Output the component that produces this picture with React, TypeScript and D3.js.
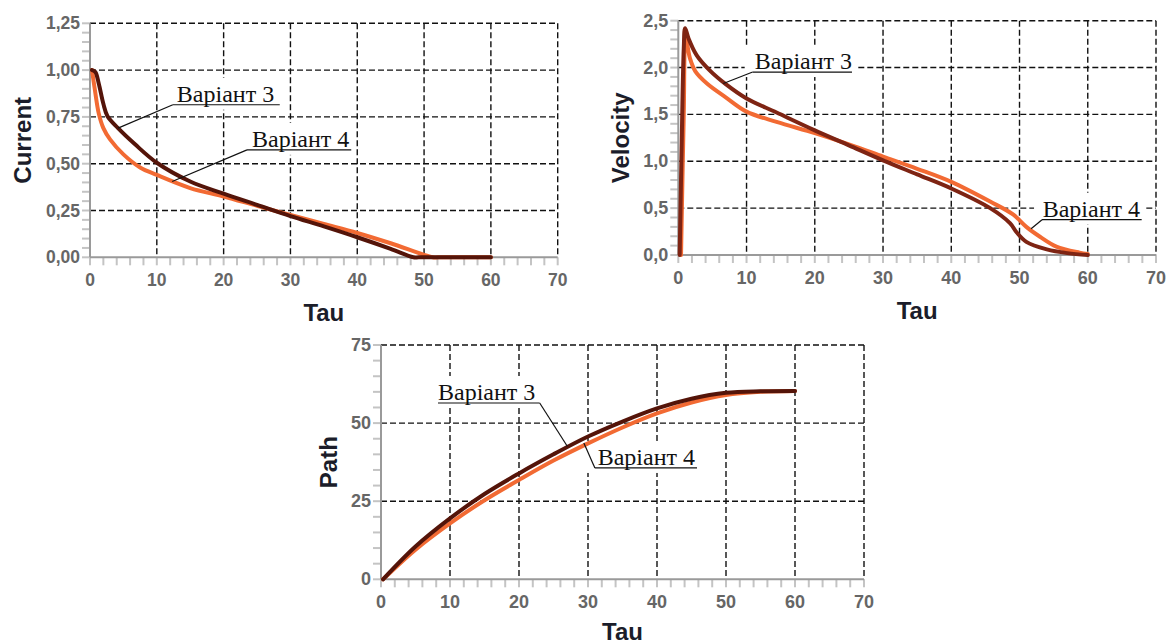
import React from 'react';
import * as d3 from 'd3';

// ---------- data ----------
const tauTicks = [0, 10, 20, 30, 40, 50, 60, 70];
const currentTicks = [0, 0.25, 0.5, 0.75, 1.0, 1.25];
const velocityTicks = [0, 0.5, 1.0, 1.5, 2.0, 2.5];
const pathTicks = [0, 25, 50, 75];

const currentV3Tau = [0.3, 0.8, 1.3, 2.0, 2.6, 4.2, 6.7, 10, 15, 20, 25, 30, 35, 40, 45, 48.4, 49.2, 54, 60];
const currentV3 = [1.0, 0.99, 0.93, 0.82, 0.755, 0.69, 0.605, 0.505, 0.405, 0.34, 0.28, 0.22, 0.165, 0.107, 0.045, 0.0, 0.0, 0.0, 0.0];
const currentV4Tau = [0.3, 0.75, 1.3, 2, 3, 5, 7.5, 10, 15, 20, 25, 30, 35, 40, 45, 51.3, 52.1, 56, 60];
const currentV4 = [1.0, 0.89, 0.77, 0.69, 0.63, 0.55, 0.48, 0.44, 0.37, 0.325, 0.275, 0.226, 0.178, 0.13, 0.075, 0.0, 0.0, 0.0, 0.0];

const velocityV3Tau = [0.2, 0.5, 0.8, 1.0, 1.5, 2.7, 4.6, 7, 10, 14.4, 20, 25, 30, 35, 40, 45.7, 48.6, 49.6, 51, 54, 57, 60];
const velocityV3 = [0, 1.2, 2.2, 2.42, 2.31, 2.13, 1.97, 1.82, 1.67, 1.52, 1.33, 1.17, 1.01, 0.86, 0.71, 0.50, 0.34, 0.24, 0.14, 0.06, 0.02, 0.0];
const velocityV4Tau = [0.4, 0.8, 1.1, 1.7, 2.5, 4.2, 7, 10, 14.4, 20, 25, 30, 35, 40, 45.7, 49.1, 51, 53, 55.4, 58.8, 60];
const velocityV4 = [0, 1.5, 2.31, 2.10, 1.96, 1.83, 1.68, 1.53, 1.42, 1.30, 1.18, 1.05, 0.92, 0.78, 0.57, 0.43, 0.30, 0.195, 0.09, 0.025, 0.01];

const pathV3Tau = [0.3, 5, 10, 15, 20, 25, 30, 35, 40, 45, 50, 55, 60];
const pathV3 = [0, 10.5, 19.5, 27.3, 33.9, 40.0, 45.7, 50.5, 54.7, 57.8, 59.7, 60.2, 60.3];
const pathV4Tau = [0.3, 5, 10, 15, 20, 25, 30, 35, 40, 45, 50, 55, 60];
const pathV4 = [0, 9.5, 17.9, 25.3, 31.8, 38.0, 43.5, 48.6, 53.1, 56.6, 59.0, 60.0, 60.3];

const labelV3 = 'Варіант 3';
const labelV4 = 'Варіант 4';

// ---------- styles ----------
const DARK = '#541409';
const DARK2 = '#7e2413';
const ORANGE = '#f26a33';
const TITLE = '#1b1d2a';
const TICKTXT = '#666666';

type Ann = { text: string; tx: number; ty: number; ux1: number; ux2: number; px: number; py: number; from: 'left' | 'right' };
type Ser = { tau: number[]; vals: number[]; color: string };
type PanelProps = {
  left: number; right: number; top: number; bottom: number;
  yMax: number; yTicks: number[]; yMinor: number; fmt: (v: number) => string;
  yTitle: string; yTitleOff: number; fs: number; tauOff: number;
  series: Ser[]; anns: Ann[];
};

const comma = (d: number) => (v: number) => v.toFixed(d).replace('.', ',');

function Panel(p: PanelProps) {
  const x = d3.scaleLinear().domain([0, 70]).range([p.left, p.right]);
  const y = d3.scaleLinear().domain([0, p.yMax]).range([p.bottom, p.top]);
  const xMinor = d3.range(0, 70 + 0.001, 2);
  const yMinor = d3.range(0, p.yMax + p.yMinor / 2, p.yMinor);
  const line = d3.line<[number, number]>().x(d => x(d[0])).y(d => y(d[1])).curve(d3.curveCatmullRom.alpha(0.5));
  const dash = '6,3';
  return (
    <g>
      {/* grid */}
      {tauTicks.filter(t => t > 0).map(t => (
        <line key={'gx' + t} x1={x(t)} x2={x(t)} y1={p.top} y2={p.bottom} stroke="#111" strokeWidth={1.4} strokeDasharray={dash} />
      ))}
      {p.yTicks.filter(t => t > 0).map(t => (
        <line key={'gy' + t} x1={p.left} x2={p.right} y1={y(t)} y2={y(t)} stroke="#111" strokeWidth={1.4} strokeDasharray={dash} />
      ))}
      {/* label masks */}
      {p.anns.map((a, i) => (
        <rect key={'m' + i} x={x(a.ux1) - 8} y={y(a.ty) - 24} width={x(a.ux2) - x(a.ux1) + 12} height={32} fill="#fff" />
      ))}
      {/* minor ticks */}
      {xMinor.map(t => (
        <line key={'tx' + t} x1={x(t)} x2={x(t)} y1={p.bottom} y2={p.bottom + 8} stroke="#c4c4c4" strokeWidth={2} />
      ))}
      {yMinor.map(t => (
        <line key={'ty' + t} x1={p.left - 8} x2={p.left} y1={y(t)} y2={y(t)} stroke="#c4c4c4" strokeWidth={2} />
      ))}
      {/* axes */}
      <line x1={p.left} x2={p.left} y1={p.top} y2={p.bottom} stroke="#9a9a9a" strokeWidth={2} />
      <line x1={p.left} x2={p.right} y1={p.bottom} y2={p.bottom} stroke="#9a9a9a" strokeWidth={2} />
      {/* tick labels */}
      {tauTicks.map(t => (
        <text key={'lx' + t} x={x(t)} y={p.bottom + 23} textAnchor="middle" dominantBaseline="central"
          fontFamily="Liberation Sans, Arial, sans-serif" fontWeight="bold" fontSize={p.fs} fill={TICKTXT}>{t}</text>
      ))}
      {p.yTicks.map(t => (
        <text key={'ly' + t} x={p.left - 10} y={y(t)} textAnchor="end" dominantBaseline="central"
          fontFamily="Liberation Sans, Arial, sans-serif" fontWeight="bold" fontSize={p.fs} fill={TICKTXT}>{p.fmt(t)}</text>
      ))}
      {/* titles */}
      <text x={(p.left + p.right) / 2} y={p.bottom + p.tauOff} textAnchor="middle" dominantBaseline="central"
        fontFamily="Liberation Sans, Arial, sans-serif" fontWeight="bold" fontSize={24} fill={TITLE}>Tau</text>
      <text transform={`translate(${p.left - p.yTitleOff},${(p.top + p.bottom) / 2}) rotate(-90)`} textAnchor="middle" dominantBaseline="central"
        fontFamily="Liberation Sans, Arial, sans-serif" fontWeight="bold" fontSize={24} fill={TITLE}>{p.yTitle}</text>
      {/* series */}
      {p.series.map((s, i) => (
        <path key={'s' + i} d={line(s.tau.map((t, j) => [t, s.vals[j]] as [number, number])) || ''}
          fill="none" stroke={s.color} strokeWidth={4} strokeLinejoin="round" strokeLinecap="round" />
      ))}
      {/* annotations */}
      {p.anns.map((a, i) => {
        const uy = y(a.ty) + 3;
        const sx = a.from === 'left' ? x(a.ux1) : x(a.ux2);
        return (
          <g key={'a' + i}>
            <text x={x(a.tx)} y={y(a.ty)} fontFamily="Liberation Serif, Times New Roman, serif" fontSize={24} fill="#111">{a.text}</text>
            <line x1={x(a.ux1)} x2={x(a.ux2)} y1={uy} y2={uy} stroke="#111" strokeWidth={1.2} />
            <line x1={sx} y1={uy} x2={x(a.px)} y2={y(a.py)} stroke="#111" strokeWidth={1.2} />
          </g>
        );
      })}
    </g>
  );
}

export default function App() {
  return (
    <svg width={1167} height={644} style={{ position: 'absolute', left: 0, top: 0, background: '#fff' }}>
      <Panel left={90} right={557.7} top={23.3} bottom={257.3} yMax={1.25} yTicks={currentTicks} yMinor={0.05}
        fmt={comma(2)} yTitle="Current" yTitleOff={68} fs={17.5} tauOff={55}
        series={[{ tau: currentV4Tau, vals: currentV4, color: ORANGE }, { tau: currentV3Tau, vals: currentV3, color: DARK }]}
        anns={[
          { text: labelV3, tx: 13.0, ty: 0.831, ux1: 12.4, ux2: 28.4, px: 4.2, py: 0.69, from: 'left' },
          { text: labelV4, tx: 24.25, ty: 0.59, ux1: 23.5, ux2: 39.1, px: 12.3, py: 0.405, from: 'left' },
        ]} />
      <Panel left={678.3} right={1156} top={20.7} bottom={255} yMax={2.5} yTicks={velocityTicks} yMinor={0.1}
        fmt={comma(1)} yTitle="Velocity" yTitleOff={58} fs={18} tauOff={55}
        series={[{ tau: velocityV4Tau, vals: velocityV4, color: ORANGE }, { tau: velocityV3Tau, vals: velocityV3, color: DARK2 }]}
        anns={[
          { text: labelV3, tx: 11.2, ty: 1.984, ux1: 10.9, ux2: 25.45, px: 6.6, py: 1.83, from: 'left' },
          { text: labelV4, tx: 53.4, ty: 0.409, ux1: 53.3, ux2: 67.9, px: 51.7, py: 0.28, from: 'left' },
        ]} />
      <Panel left={381} right={864} top={345} bottom={579.3} yMax={75} yTicks={pathTicks} yMinor={5}
        fmt={(v) => String(v)} yTitle="Path" yTitleOff={53} fs={18} tauOff={52}
        series={[{ tau: pathV4Tau, vals: pathV4, color: ORANGE }, { tau: pathV3Tau, vals: pathV3, color: DARK }]}
        anns={[
          { text: labelV3, tx: 8.26, ty: 57.4, ux1: 8.26, ux2: 23.0, px: 27.0, py: 42.6, from: 'right' },
          { text: labelV4, tx: 31.4, ty: 36.6, ux1: 31.0, ux2: 45.8, px: 29.4, py: 43.6, from: 'left' },
        ]} />
    </svg>
  );
}
